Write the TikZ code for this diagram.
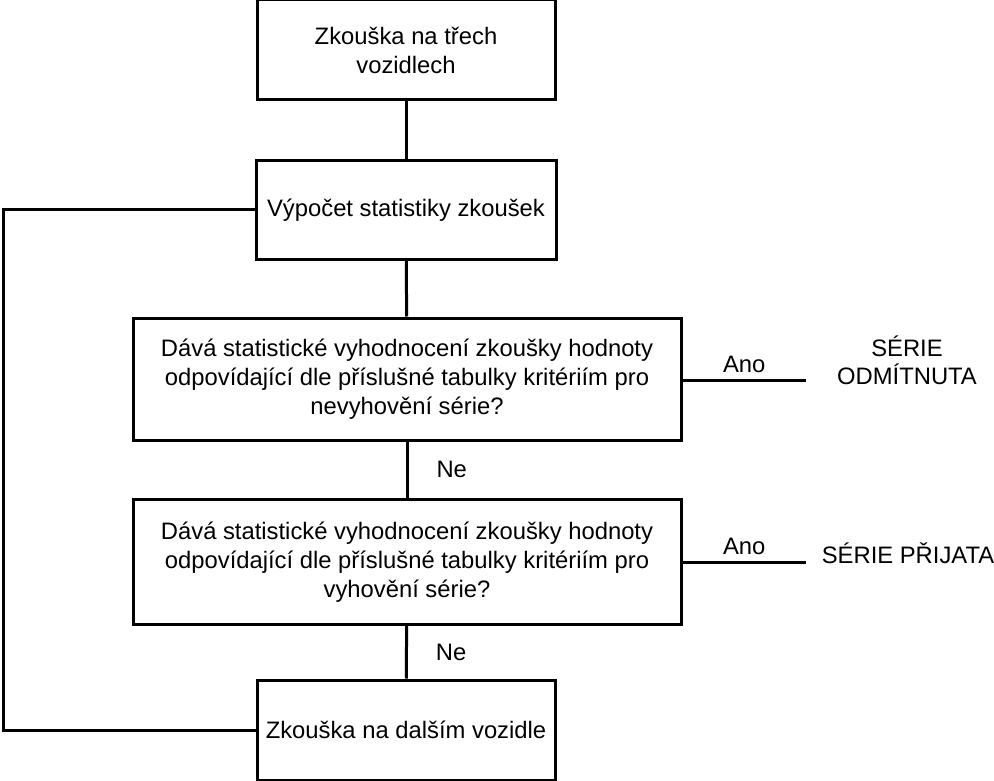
\documentclass[tikz,border=0pt]{standalone}
\usepackage{fontspec}
\setmainfont{Liberation Sans}
\usepackage{tikz}
\usetikzlibrary{positioning, calc}

\begin{document}
\begin{tikzpicture}[
    x=1pt, y=-1pt,
    line width=3pt,
    box/.style={draw, align=center, inner sep=0pt, font=\fontsize{23.8}{29}\selectfont},
    lbl/.style={font=\fontsize{23.8}{29}\selectfont, align=center, inner sep=0pt}
]
    \useasboundingbox (0,0) rectangle (994,781);
    % --- main column ---
    \node[box, minimum width=298pt, minimum height=100pt] (test) at (406,50) {Zkouška na třech\\vozidlech};
    \node[box, minimum width=300pt, minimum height=98pt] (stat) at (406,210) {Výpočet statistiky zkoušek};
    \node[box, minimum width=548pt, minimum height=122pt] (rej) at (407,379)
        {Dává statistické vyhodnocení zkoušky hodnoty\\odpovídající dle příslušné tabulky kritériím pro\\nevyhovění série?};
    \node[box, minimum width=548pt, minimum height=125pt] (acc) at (407,562)
        {Dává statistické vyhodnocení zkoušky hodnoty\\odpovídající dle příslušné tabulky kritériím pro\\vyhovění série?};
    \node[box, minimum width=298pt, minimum height=100pt] (next) at (406,730) {Zkouška na dalším vozidle};

    \draw (test) -- (stat);
    \draw (stat) -- (rej);
    \draw (rej) -- node[lbl, right=28pt] {Ne} (acc);
    \draw (acc) -- node[lbl, right=28pt] {Ne} (next);

    % --- loop back ---
    \coordinate (lt) at (3,210);
    \coordinate (lb) at (3,730);
    \draw (stat.west) -- (lt) -- (lb) -- (next.west);

    % --- outcomes ---
    \coordinate (rejend) at (806,380);
    \coordinate (accend) at (806,562);
    \draw (rej.east |- rejend) -- node[lbl, above=6pt] {Ano} (rejend);
    \draw (acc.east |- accend) -- node[lbl, above=6pt] {Ano} (accend);
    \node[lbl, font=\fontsize{23.8}{28}\selectfont] (rejout) at (907,360) {SÉRIE\\ODMÍTNUTA};
    \node[lbl] (accout) at (908,553) {SÉRIE PŘIJATA};
\end{tikzpicture}
\end{document}
